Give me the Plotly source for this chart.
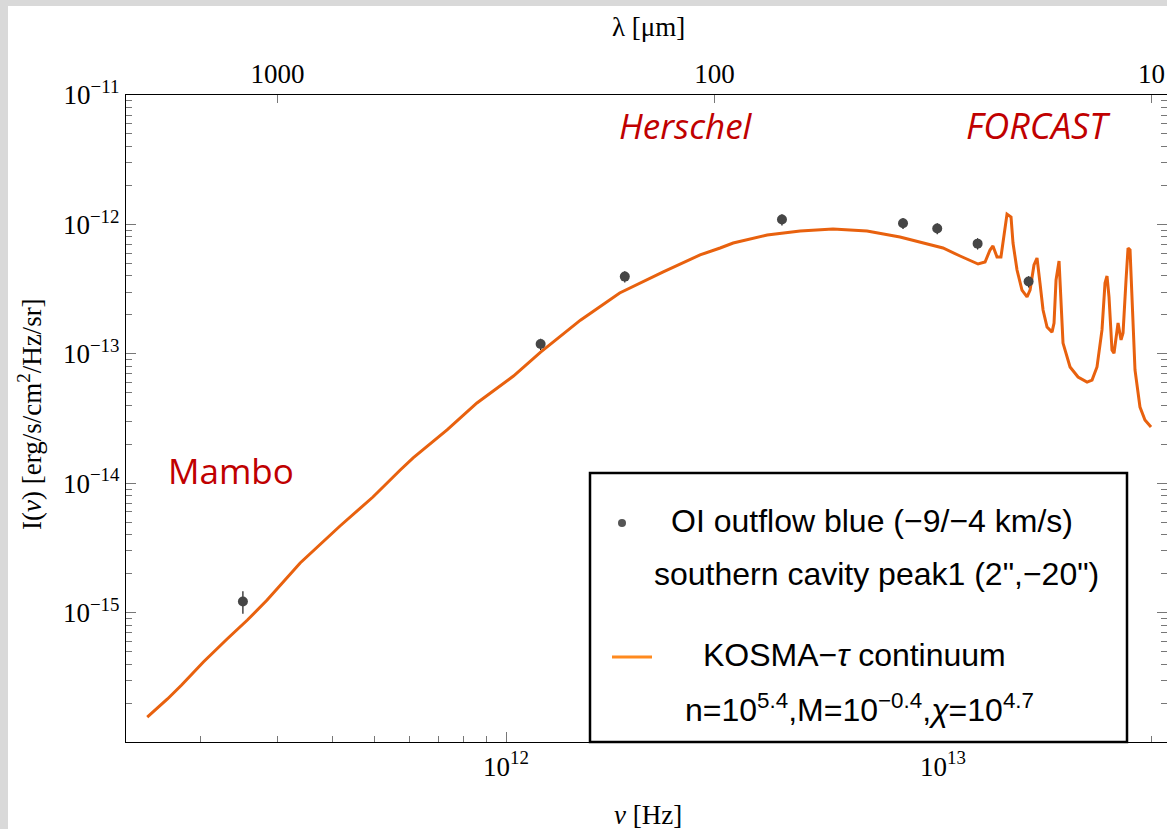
import plotly.graph_objects as go

# ---------------- data ----------------
obs_nu = [2.5e11, 1.2e12, 1.87e12, 4.28e12, 8.1e12, 9.7e12, 1.2e13, 1.57e13]
obs_I = [1.22e-15, 1.19e-13, 3.95e-13, 1.09e-12, 1.02e-12, 9.3e-13, 7.1e-13, 3.62e-13]
obs_err = [0.24e-15, 0.12e-13, 0.40e-13, 0.11e-12, 0.10e-12, 0.09e-12, 0.07e-12, 0.36e-13]

model_nu = [1.51e11, 1.68e11, 1.81e11, 2.03e11, 2.30e11, 2.56e11, 2.84e11, 3.38e11, 4.17e11, 4.96e11,
            5.72e11, 6.13e11, 7.33e11, 8.58e11, 1.04e12, 1.20e12, 1.48e12, 1.82e12, 2.29e12, 2.78e12,
            3.09e12, 3.31e12, 3.96e12, 4.71e12, 5.60e12, 6.70e12, 7.97e12, 1.00e13, 1.094e13, 1.203e13,
            1.248e13, 1.281e13, 1.301e13, 1.329e13, 1.357e13, 1.372e13, 1.401e13, 1.431e13, 1.446e13, 1.477e13,
            1.516e13, 1.557e13, 1.582e13, 1.615e13, 1.641e13, 1.667e13, 1.694e13, 1.730e13, 1.776e13, 1.795e13,
            1.814e13, 1.843e13, 1.862e13, 1.882e13, 1.953e13, 2.037e13, 2.136e13, 2.193e13, 2.251e13, 2.311e13,
            2.348e13, 2.373e13, 2.398e13, 2.436e13, 2.462e13, 2.502e13, 2.515e13, 2.555e13, 2.582e13, 2.623e13,
            2.651e13, 2.679e13, 2.707e13, 2.750e13, 2.823e13, 2.898e13, 2.992e13]
model_I = [1.56e-16, 2.15e-16, 2.76e-16, 4.15e-16, 6.25e-16, 8.77e-16, 1.25e-15, 2.42e-15, 4.67e-15, 7.82e-15,
           1.26e-14, 1.57e-14, 2.58e-14, 4.17e-14, 6.73e-14, 1.03e-13, 1.82e-13, 2.95e-13, 4.29e-13, 5.81e-13,
           6.57e-13, 7.18e-13, 8.28e-13, 8.89e-13, 9.21e-13, 8.89e-13, 7.99e-13, 6.57e-13, 5.70e-13, 4.94e-13,
           5.12e-13, 6.34e-13, 6.81e-13, 5.60e-13, 5.60e-13, 7.18e-13, 1.20e-12, 1.14e-12, 7.18e-13, 4.44e-13,
           3.11e-13, 2.75e-13, 3.11e-13, 4.86e-13, 5.50e-13, 3.52e-13, 2.18e-13, 1.61e-13, 1.47e-13, 1.73e-13,
           3.72e-13, 5.21e-13, 2.75e-13, 1.21e-13, 7.91e-14, 6.62e-14, 6.05e-14, 6.27e-14, 7.91e-14, 1.53e-13,
           3.52e-13, 3.99e-13, 2.75e-13, 1.07e-13, 1.01e-13, 1.61e-13, 1.73e-13, 1.28e-13, 1.45e-13, 3.72e-13,
           6.57e-13, 6.34e-13, 2.47e-13, 7.50e-14, 3.88e-14, 3.08e-14, 2.72e-14]

x_major = [1e12, 1e13]
x_major_text = ["10<sup>12</sup>", "10<sup>13</sup>"]
y_major = [1e-16, 1e-15, 1e-14, 1e-13, 1e-12, 1e-11]
y_major_text = ["", "10<sup>\u221215</sup>", "10<sup>\u221214</sup>", "10<sup>\u221213</sup>",
                "10<sup>\u221212</sup>", "10<sup>\u221211</sup>"]
lam_um = [1000, 100, 10]
lam_text = ["1000", "100", "10"]
C_UM = 2.998e14  # speed of light in um/s

legend_obs = ["OI outflow blue (\u22129/\u22124 km/s)", "southern cavity peak1 (2\",\u221220\")"]
legend_mod = ["KOSMA\u2212<i>\u03c4</i> continuum",
              "n=10<sup>5.4</sup>,M=10<sup>\u22120.4</sup>,<i>\u03c7</i>=10<sup>4.7</sup>"]

# ---------------- layout geometry ----------------
W, H = 1167, 829
L, R, T, B = 126, 0, 95, 87
PW, PH = W - L - R, H - T - B
XR = [11.1304, 11.1304 + PW / 437.0]
YR = [-16, -11]


def xp(px):
    return (px - L) / PW


def yp(py):
    return (H - B - py) / PH


x_minor = [m * 10.0 ** e for e in (11, 12, 13) for m in range(2, 10)]
y_minor = [m * 10.0 ** e for e in range(-16, -11) for m in range(2, 10)]

SERIF = "Liberation Serif"
SANS = "Liberation Sans"
RED = "#c00000"
ORANGE = "#e8610e"

fig = go.Figure()

fig.add_trace(go.Scatter(
    x=model_nu, y=model_I, mode="lines",
    line=dict(color=ORANGE, width=3), showlegend=False, hoverinfo="skip"))

fig.add_trace(go.Scatter(
    x=obs_nu, y=obs_I, mode="markers",
    marker=dict(color="#464646", size=10),
    error_y=dict(type="data", array=obs_err, color="black", thickness=1.1, width=0),
    showlegend=False, hoverinfo="skip"))

# invisible trace for top axis
fig.add_trace(go.Scatter(x=[C_UM / l for l in lam_um], y=[1e-20] * 3, xaxis="x2",
                         mode="markers", marker=dict(opacity=0), showlegend=False, hoverinfo="skip"))

axis_common = dict(showgrid=False, zeroline=False, showline=True, linecolor="black", linewidth=1.3,
                   tickcolor="#777777", tickwidth=1.3, tickfont=dict(family=SERIF, size=27, color="black"))

fig.update_layout(
    width=W, height=H,
    margin=dict(l=L, r=R, t=T, b=B, autoexpand=False),
    paper_bgcolor="white", plot_bgcolor="white",
    showlegend=False,
    xaxis=dict(type="log", range=XR, tickmode="array", tickvals=x_major, ticktext=x_major_text,
               ticks="inside", ticklen=10,
               minor=dict(tickmode="array", tickvals=x_minor, ticks="inside", ticklen=6,
                          tickcolor="#777777", tickwidth=1.3),
               **axis_common),
    xaxis2=dict(type="log", range=XR, overlaying="x", side="top", anchor="y",
                tickmode="array", tickvals=[C_UM / l for l in lam_um], ticktext=lam_text,
                ticks="inside", ticklen=8, **axis_common),
    yaxis=dict(type="log", range=YR, tickmode="array", tickvals=y_major, ticktext=y_major_text,
               ticks="inside", ticklen=10, mirror="ticks",
               minor=dict(tickmode="array", tickvals=y_minor, ticks="inside", ticklen=6,
                          tickcolor="#777777", tickwidth=1.3),
               **axis_common),
)

shapes = []
# gray page border (left & top)
shapes.append(dict(type="rect", xref="paper", yref="paper", x0=xp(0), x1=xp(8), y0=yp(H), y1=yp(0),
                   fillcolor="#d9d9d9", line=dict(width=0), layer="above"))
shapes.append(dict(type="rect", xref="paper", yref="paper", x0=xp(0), x1=xp(W), y0=yp(6), y1=yp(0),
                   fillcolor="#d9d9d9", line=dict(width=0), layer="above"))
# legend box
shapes.append(dict(type="rect", xref="paper", yref="paper", x0=xp(590), x1=xp(1127), y0=yp(742), y1=yp(473),
                   fillcolor="white", line=dict(color="black", width=2.5), layer="above"))
# legend symbols
shapes.append(dict(type="circle", xref="paper", yref="paper", x0=xp(618), x1=xp(626), y0=yp(527), y1=yp(519),
                   fillcolor="#555555", line=dict(width=0), layer="above"))
shapes.append(dict(type="line", xref="paper", yref="paper", x0=xp(612), x1=xp(652), y0=yp(657), y1=yp(657),
                   line=dict(color="#ff8a1e", width=3), layer="above"))
fig.update_layout(shapes=shapes)

ann = []


def add_text(text, px, py, family, size, color="black", angle=0):
    ann.append(dict(text=text, x=xp(px), y=yp(py), xref="paper", yref="paper", showarrow=False,
                    xanchor="center", yanchor="middle", textangle=angle,
                    font=dict(family=family, size=size, color=color)))


add_text("Mambo", 231, 470, "Open Sans", 35, RED)
add_text("<i>Herschel</i>", 686, 126, "Open Sans", 35, RED)
add_text("<i>FORCAST</i>", 1038, 126, "Open Sans", 36, RED)
add_text("\u03bb [\u03bcm]", 648, 27, SERIF, 27)
add_text("<i>\u03bd</i> [Hz]", 648, 815, SERIF, 27)
add_text("I(<i>\u03bd</i>) [erg/s/cm<sup>2</sup>/Hz/sr]", 30, 414, SERIF, 27, angle=-90)
add_text(legend_obs[0], 872, 521, SANS, 32)
add_text(legend_obs[1], 876, 574, SANS, 32)
add_text(legend_mod[0], 854, 655, SANS, 32)
add_text(legend_mod[1], 859, 708, SANS, 32)
fig.update_layout(annotations=ann)

fig.write_html("out.html")
